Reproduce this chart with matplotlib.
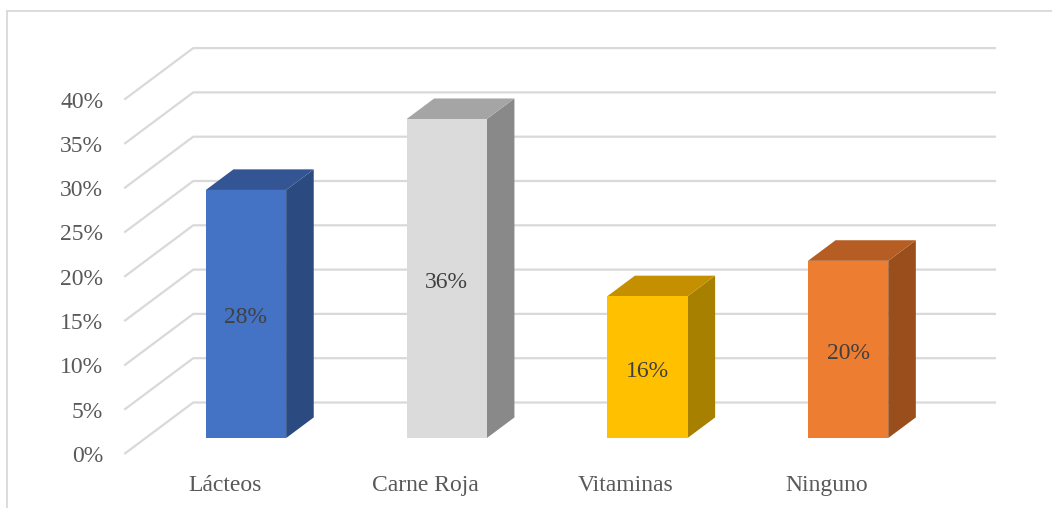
import matplotlib
matplotlib.use("Agg")
import matplotlib.pyplot as plt
from matplotlib.patches import Polygon

categories = ["Lácteos", "Carne Roja", "Vitaminas", "Ninguno"]
values = [28, 36, 16, 20]
tick_values = [0, 5, 10, 15, 20, 25, 30, 35, 40]
tick_labels = ["0%", "5%", "10%", "15%", "20%", "25%", "30%", "35%", "40%"]
front_colors = ["#4472C4", "#DBDBDB", "#FFC000", "#ED7D31"]
top_colors = ["#335593", "#A5A5A5", "#C49000", "#B65D23"]
side_colors = ["#2B4A80", "#898989", "#A88000", "#9A4E1C"]

W, H = 1052, 508
fig = plt.figure(figsize=(W / 100, H / 100), dpi=100)
ax = fig.add_axes([0, 0, 1, 1])

# pixel mapping: x_px = 224.6 + 200.7*x ; y_px(from top) = 454 - 8.86*y
px_per_cat = 200.7
px_per_pct = 8.86
x0_px, y0_px = 224.6, 454.0
ax.set_xlim(-x0_px / px_per_cat, (W - x0_px) / px_per_cat)
ax.set_ylim((y0_px - H) / px_per_pct, y0_px / px_per_pct)
ax.axis("off")

# oblique depth offset for full depth (d = 1)
DX = 69.0 / px_per_cat
DY = 51.5 / px_per_pct

def proj(x, y, d):
    return (x + d * DX, y + d * DY)

grid_c = "#D9D9D9"
x_left, x_right = -0.5, 3.5
for v in tick_values:
    pts = [proj(x_left, v, 0), proj(x_left, v, 1), proj(x_right, v, 1)]
    ax.plot([p[0] for p in pts], [p[1] for p in pts], color=grid_c, lw=1.6,
            solid_capstyle="butt", zorder=1)

font = "Liberation Serif"
txt_c = "#595959"
fs = 17
for v, lab in zip(tick_values, tick_labels):
    xa, ya = proj(x_left, v, 0)
    ax.text(xa - 21 / px_per_cat, ya - 8 / px_per_pct, lab, ha="right", va="baseline",
            fontsize=fs, family=font, color=txt_c)

bw = 0.4
d0, d1 = 0.31, 0.71
for i, (cat, val) in enumerate(zip(categories, values)):
    xl, xr = i - bw / 2, i + bw / 2
    front = [proj(xl, 0, d0), proj(xr, 0, d0), proj(xr, val, d0), proj(xl, val, d0)]
    side = [proj(xr, 0, d0), proj(xr, 0, d1), proj(xr, val, d1), proj(xr, val, d0)]
    top = [proj(xl, val, d0), proj(xr, val, d0), proj(xr, val, d1), proj(xl, val, d1)]
    ax.add_patch(Polygon(side, closed=True, facecolor=side_colors[i], edgecolor="none", zorder=3))
    ax.add_patch(Polygon(top, closed=True, facecolor=top_colors[i], edgecolor="none", zorder=3))
    ax.add_patch(Polygon(front, closed=True, facecolor=front_colors[i], edgecolor="none", zorder=4))
    cx, cy = proj(i, val / 2, d0)
    ax.text(cx, cy - 9.5 / px_per_pct, f"{val}%", ha="center", va="baseline", fontsize=fs,
            family=font, color="#404040", zorder=5)
    lx, ly = proj(i, 0, 0)
    ax.text(lx, ly - 37 / px_per_pct, cat, ha="center", va="baseline", fontsize=fs,
            family=font, color=txt_c)

# chart border (top and left visible)
fig.add_artist(plt.Line2D([7 / W, 7 / W], [0, 1 - 11 / H], color="#D9D9D9", lw=1.3,
                          transform=fig.transFigure))
fig.add_artist(plt.Line2D([7 / W, 1], [1 - 11 / H, 1 - 11 / H], color="#D9D9D9", lw=1.3,
                          transform=fig.transFigure))

fig.savefig("out.png", dpi=100, facecolor="white")
